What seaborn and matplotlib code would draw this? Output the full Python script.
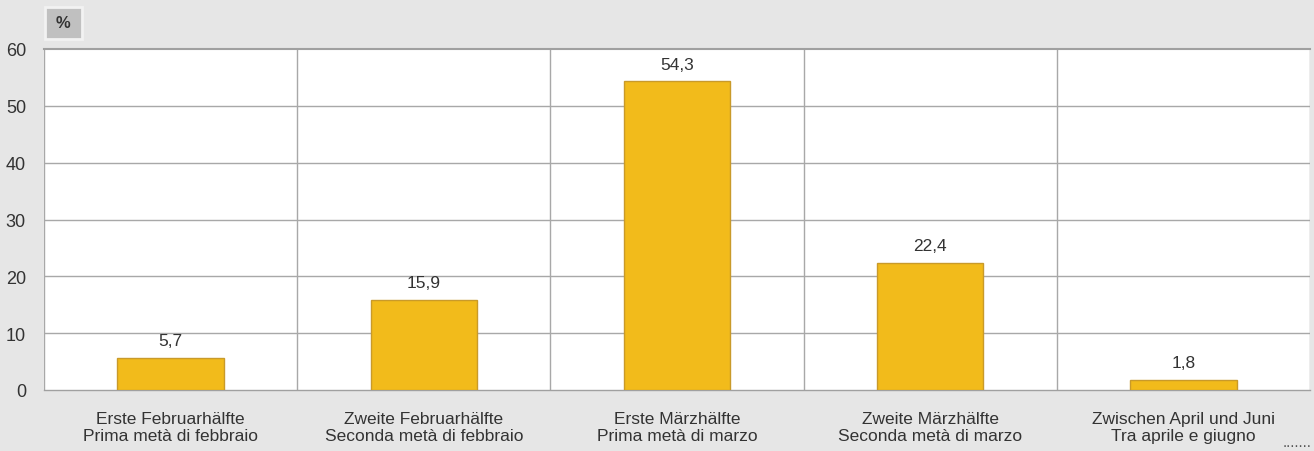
import matplotlib
matplotlib.use("Agg")
import matplotlib.pyplot as plt
import matplotlib.patches as mpatches
import seaborn as sns
import pandas as pd

categories = [
    "Erste Februarhälfte\nPrima metà di febbraio",
    "Zweite Februarhälfte\nSeconda metà di febbraio",
    "Erste Märzhälfte\nPrima metà di marzo",
    "Zweite Märzhälfte\nSeconda metà di marzo",
    "Zwischen April und Juni\nTra aprile e giugno",
]
values = [5.7, 15.9, 54.3, 22.4, 1.8]
value_labels = ["5,7", "15,9", "54,3", "22,4", "1,8"]
yticks = [0, 10, 20, 30, 40, 50, 60]

sns.set_theme(style="white")
plt.rcParams["font.family"] = ["Liberation Sans", "DejaVu Sans"]

W, H = 1314, 452
bg = "#e6e6e6"
fig = plt.figure(figsize=(W / 100, H / 100), dpi=100, facecolor=bg)
ax = fig.add_axes([44 / W, 1 - 391 / H, (1310 - 44) / W, (391 - 50) / H])
ax.set_facecolor("white")

df = pd.DataFrame({"cat": categories, "val": values})
sns.barplot(data=df, x="cat", y="val", ax=ax, color="#f2bb1b", saturation=1,
            width=0.42, edgecolor="#c99a2a", linewidth=1.0, zorder=3)

ax.set_ylim(0, 60)
ax.set_xlim(-0.5, len(categories) - 0.5)
ax.set_yticks(yticks)
ax.set_yticklabels([str(t) for t in yticks], fontsize=13, color="#333333")
ax.tick_params(axis="y", length=0, pad=13)
ax.tick_params(axis="x", length=0, pad=15, labelsize=12.5, labelcolor="#333333")
for lab in ax.get_xticklabels():
    lab.set_linespacing(1.15)
ax.set_xlabel("")
ax.set_ylabel("")

for t in yticks[1:-1]:
    ax.axhline(t, color="#a8a8a8", linewidth=1.0, zorder=1)
for i in range(len(categories) - 1):
    ax.axvline(i + 0.5, color="#a8a8a8", linewidth=1.0, zorder=1)

for s in ax.spines.values():
    s.set_color("#a0a0a0")
    s.set_linewidth(1.0)
ax.spines["top"].set_linewidth(1.5)
ax.spines["left"].set_visible(False)
ax.spines["right"].set_visible(False)
ax.axvline(-0.5, color="#a8a8a8", linewidth=1.0, zorder=1)
ax.axvline(len(categories) - 0.5, color="#a8a8a8", linewidth=1.0, zorder=1)

for i, (v, lab) in enumerate(zip(values, value_labels)):
    ax.annotate(lab, (i, v), xytext=(0, 7), textcoords="offset points",
                ha="center", va="bottom", fontsize=12.5, color="#333333")

# "%" unit box
fig.patches.append(mpatches.Rectangle((45 / W, 1 - 40 / H), 37 / W, 32 / H,
                                      transform=fig.transFigure, facecolor="#c0c0c0",
                                      edgecolor="#f2f2f2", linewidth=2))
fig.text(63.5 / W, 1 - 24 / H, "%", ha="center", va="center", fontsize=12,
         fontweight="bold", color="#333333")

fig.text(1297 / W, 1 - 443 / H, ".......", ha="center", va="center", fontsize=11, color="#555555")

fig.savefig("out.png", dpi=100, facecolor=bg)
